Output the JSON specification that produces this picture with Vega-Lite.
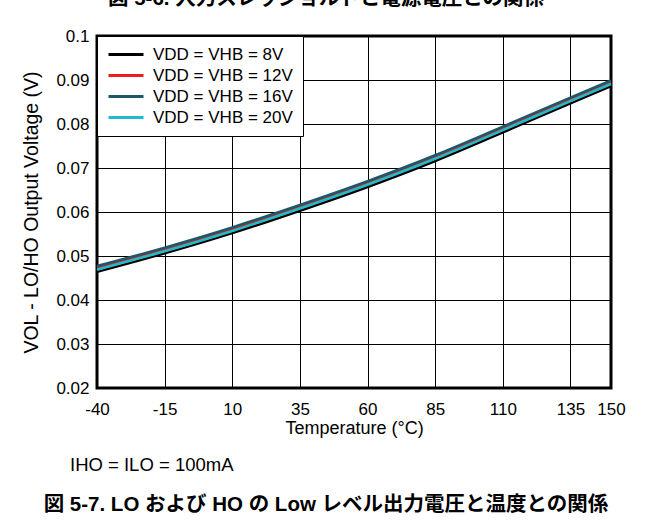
{
  "$schema": "https://vega.github.io/schema/vega-lite/v6.json",
  "width": 514,
  "height": 352,
  "autosize": {"type": "none"},
  "padding": {"left": 97, "top": 36, "right": 42, "bottom": 141},
  "background": "white",
  "config": {"view": {"stroke": "black", "strokeWidth": 3}, "font": "Liberation Sans"},
  "datasets": {
    "curves": [
      {"series": "VDD = VHB = 8V", "temp": -40, "vol": 0.0464},
      {"series": "VDD = VHB = 8V", "temp": -15, "vol": 0.0506},
      {"series": "VDD = VHB = 8V", "temp": 10, "vol": 0.0552},
      {"series": "VDD = VHB = 8V", "temp": 35, "vol": 0.0603},
      {"series": "VDD = VHB = 8V", "temp": 60, "vol": 0.0657},
      {"series": "VDD = VHB = 8V", "temp": 85, "vol": 0.0716},
      {"series": "VDD = VHB = 8V", "temp": 110, "vol": 0.0781},
      {"series": "VDD = VHB = 8V", "temp": 135, "vol": 0.0847},
      {"series": "VDD = VHB = 8V", "temp": 150, "vol": 0.0886},
      {"series": "VDD = VHB = 12V", "temp": -40, "vol": 0.0473},
      {"series": "VDD = VHB = 12V", "temp": -15, "vol": 0.0515},
      {"series": "VDD = VHB = 12V", "temp": 10, "vol": 0.0561},
      {"series": "VDD = VHB = 12V", "temp": 35, "vol": 0.0612},
      {"series": "VDD = VHB = 12V", "temp": 60, "vol": 0.0666},
      {"series": "VDD = VHB = 12V", "temp": 85, "vol": 0.0725},
      {"series": "VDD = VHB = 12V", "temp": 110, "vol": 0.0790},
      {"series": "VDD = VHB = 12V", "temp": 135, "vol": 0.0856},
      {"series": "VDD = VHB = 12V", "temp": 150, "vol": 0.0895},
      {"series": "VDD = VHB = 16V", "temp": -40, "vol": 0.0477},
      {"series": "VDD = VHB = 16V", "temp": -15, "vol": 0.0519},
      {"series": "VDD = VHB = 16V", "temp": 10, "vol": 0.0565},
      {"series": "VDD = VHB = 16V", "temp": 35, "vol": 0.0616},
      {"series": "VDD = VHB = 16V", "temp": 60, "vol": 0.0670},
      {"series": "VDD = VHB = 16V", "temp": 85, "vol": 0.0729},
      {"series": "VDD = VHB = 16V", "temp": 110, "vol": 0.0794},
      {"series": "VDD = VHB = 16V", "temp": 135, "vol": 0.0860},
      {"series": "VDD = VHB = 16V", "temp": 150, "vol": 0.0899},
      {"series": "VDD = VHB = 20V", "temp": -40, "vol": 0.0469},
      {"series": "VDD = VHB = 20V", "temp": -15, "vol": 0.0511},
      {"series": "VDD = VHB = 20V", "temp": 10, "vol": 0.0557},
      {"series": "VDD = VHB = 20V", "temp": 35, "vol": 0.0608},
      {"series": "VDD = VHB = 20V", "temp": 60, "vol": 0.0662},
      {"series": "VDD = VHB = 20V", "temp": 85, "vol": 0.0721},
      {"series": "VDD = VHB = 20V", "temp": 110, "vol": 0.0786},
      {"series": "VDD = VHB = 20V", "temp": 135, "vol": 0.0852},
      {"series": "VDD = VHB = 20V", "temp": 150, "vol": 0.0891}
    ],
    "note": [{"label": "IHO = ILO = 100mA"}],
    "caption": [{"label": "図 5-7. LO および HO の Low レベル出力電圧と温度との関係"}],
    "prev": [{"label": "図 5-6. 入力スレッショルドと電源電圧との関係"}]
  },
  "layer": [
    {
      "data": {"name": "curves"},
      "mark": {"type": "line", "interpolate": "monotone", "strokeWidth": 2.6},
      "encoding": {
        "x": {
          "field": "temp", "type": "quantitative",
          "scale": {"domain": [-40, 150], "nice": false, "zero": false},
          "axis": {
            "values": [-40, -15, 10, 35, 60, 85, 110, 135, 150],
            "labelExpr": "datum.value + ''",
            "title": "Temperature (°C)",
            "grid": true, "gridColor": "black", "gridWidth": 1, "gridOpacity": 1,
            "domain": false, "ticks": false, "labelFlush": false, "labelOverlap": false,
            "labelFontSize": 17, "labelColor": "black", "labelPadding": 13,
            "titleFontSize": 18, "titleFontWeight": "normal", "titleColor": "black", "titlePadding": 2
          }
        },
        "y": {
          "field": "vol", "type": "quantitative",
          "scale": {"domain": [0.02, 0.1], "nice": false, "zero": false},
          "axis": {
            "values": [0.02, 0.03, 0.04, 0.05, 0.06, 0.07, 0.08, 0.09, 0.1],
            "format": ".2~f",
            "title": "VOL - LO/HO Output Voltage (V)",
            "grid": true, "gridColor": "black", "gridWidth": 1, "gridOpacity": 1,
            "domain": false, "ticks": false, "labelFlush": false, "labelOverlap": false,
            "labelFontSize": 17, "labelColor": "black", "labelPadding": 8,
            "titleFontSize": 19.5, "titleFontWeight": "normal", "titleColor": "black", "titlePadding": 14
          }
        },
        "color": {
          "field": "series", "type": "nominal",
          "scale": {
            "domain": ["VDD = VHB = 8V", "VDD = VHB = 12V", "VDD = VHB = 16V", "VDD = VHB = 20V"],
            "range": ["#000000", "#f01c1c", "#1d5868", "#1cbccd"]
          },
          "legend": {
            "orient": "top-left", "offset": 0, "title": null,
            "strokeColor": "black", "fillColor": "white", "padding": 10,
            "symbolType": "M-1,0H4", "symbolSize": 196, "symbolStrokeWidth": 3,
            "labelOffset": 29, "labelFontSize": 17, "labelColor": "black", "rowPadding": 3
          }
        }
      }
    },
    {
      "data": {"name": "note"},
      "mark": {"type": "text", "align": "left", "baseline": "alphabetic", "dx": -27, "dy": 83, "fontSize": 18.5, "color": "black"},
      "encoding": {
        "x": {"datum": -40, "type": "quantitative"},
        "y": {"datum": 0.02, "type": "quantitative"},
        "text": {"field": "label"}
      }
    },
    {
      "data": {"name": "caption"},
      "mark": {"type": "text", "align": "center", "baseline": "alphabetic", "dx": -28, "dy": 123, "fontSize": 20.5, "fontWeight": "bold", "font": "Liberation Sans, Noto Sans CJK JP", "color": "black"},
      "encoding": {
        "x": {"datum": 55, "type": "quantitative"},
        "y": {"datum": 0.02, "type": "quantitative"},
        "text": {"field": "label"}
      }
    },
    {
      "data": {"name": "prev"},
      "mark": {"type": "text", "align": "center", "baseline": "alphabetic", "dx": -28, "dy": -31, "fontSize": 20.5, "fontWeight": "bold", "font": "Liberation Sans, Noto Sans CJK JP", "color": "black"},
      "encoding": {
        "x": {"datum": 55, "type": "quantitative"},
        "y": {"datum": 0.1, "type": "quantitative"},
        "text": {"field": "label"}
      }
    }
  ]
}
